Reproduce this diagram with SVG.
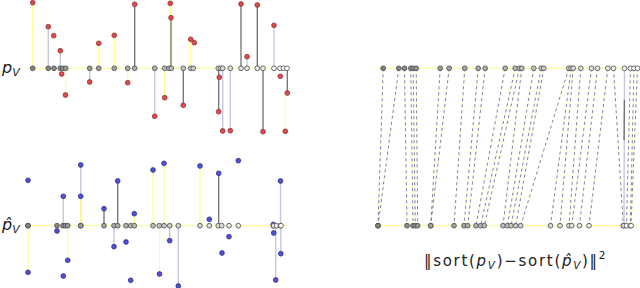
<svg xmlns="http://www.w3.org/2000/svg" width="640" height="288" viewBox="0 0 640 288">
<style>
.ax{stroke:#ffff88;stroke-width:1}
.ly{stroke:#ffff88;stroke-width:1.2}
.ll{stroke:#c6c6e2;stroke-width:1.4}
.ld{stroke:#707070;stroke-width:1.3}
.d{stroke:#4a4a4a;stroke-width:0.8}
.r{fill:#e4484c;stroke:#7a2c2c;stroke-width:0.7}
.b{fill:#5050da;stroke:#262672;stroke-width:0.7}
.my{stroke:#ffffc4;stroke-width:0.9}
.md{stroke:#7272b0;stroke-width:0.9;stroke-dasharray:3 3}
.lbl{font-family:"DejaVu Sans",sans-serif;fill:#222}
</style>
<rect width="640" height="288" fill="#fff"/>

<!-- labels -->
<text class="lbl" x="2" y="73" font-size="16" font-style="italic">p<tspan font-size="11" dy="3">V</tspan></text>
<text class="lbl" x="2" y="230" font-size="16" font-style="italic">p̂<tspan font-size="11" dy="3">V</tspan></text>
<text class="lbl" x="424" y="266" font-size="15" letter-spacing="1.7">‖sort(<tspan font-style="italic">p</tspan><tspan font-style="italic" font-size="10.5" dy="3">V</tspan><tspan dy="-3">)−sort(</tspan><tspan font-style="italic">p̂</tspan><tspan font-style="italic" font-size="10.5" dy="3">V</tspan><tspan dy="-3">)‖</tspan><tspan font-size="10.5" dy="-7">2</tspan></text>

<!-- axes -->
<g id="axes">
<line class="ax" x1="28" y1="68.3" x2="290" y2="68.3"/>
<line class="ax" x1="28" y1="225.7" x2="288" y2="225.7"/>
<line class="ax" x1="378" y1="68.3" x2="640" y2="68.3"/>
<line class="ax" x1="378" y1="225.7" x2="638" y2="225.7"/>
</g>

<!-- connectors -->
<g id="connectors">
<!-- top panel stems -->
<line class="ly" x1="32.7" y1="68.3" x2="32.7" y2="2.7"/>
<line class="ll" x1="48.3" y1="68.3" x2="48.3" y2="26.7"/>
<line class="ll" x1="60.3" y1="68.3" x2="60.3" y2="50.7"/>
<line class="ly" x1="65.5" y1="68.3" x2="65.5" y2="95"/>
<line class="ll" x1="89.7" y1="68.3" x2="89.7" y2="82"/>
<line class="ly" x1="98.7" y1="68.3" x2="98.7" y2="43.3"/>
<line class="ly" x1="114.3" y1="68.3" x2="114.3" y2="35.3"/>
<line class="ly" x1="127.7" y1="68.3" x2="127.7" y2="82.7"/>
<line class="ld" x1="134.7" y1="68.3" x2="134.7" y2="4.3"/>
<line class="ll" x1="154.7" y1="68.3" x2="154.7" y2="116.3"/>
<line class="ly" x1="164.7" y1="68.3" x2="164.7" y2="97.7"/>
<line class="ly" x1="170.3" y1="68.3" x2="170.3" y2="3.3"/>
<line class="ld" x1="171" y1="68.3" x2="171" y2="17.7"/>
<line class="ld" x1="183.3" y1="68.3" x2="183.3" y2="105.3"/>
<line class="ly" x1="190.7" y1="68.3" x2="190.7" y2="39.3"/>
<line class="ld" x1="218.7" y1="68.3" x2="218.7" y2="111.7"/>
<line class="ll" x1="222.7" y1="68.3" x2="222.7" y2="131"/>
<line class="ll" x1="230.3" y1="68.3" x2="230.3" y2="130.7"/>
<line class="ld" x1="241" y1="68.3" x2="241" y2="4"/>
<line class="ll" x1="247" y1="68.3" x2="247" y2="56.7"/>
<line class="ld" x1="257.3" y1="68.3" x2="257.3" y2="5"/>
<line class="ld" x1="263" y1="68.3" x2="263" y2="131.7"/>
<line class="ll" x1="274" y1="68.3" x2="274" y2="25.3"/>
<line class="ly" x1="285.3" y1="93" x2="285.3" y2="131.3"/>
<line class="ld" x1="287.3" y1="68.3" x2="287.3" y2="93"/>
<!-- bottom panel stems -->
<line class="ly" x1="28" y1="225.7" x2="28" y2="272.3"/>
<line class="ll" x1="63.3" y1="225.7" x2="63.3" y2="196.3"/>
<line class="ly" x1="67.7" y1="225.7" x2="67.7" y2="260.3"/>
<line class="ll" x1="80.7" y1="225.7" x2="80.7" y2="165"/>
<line class="ly" x1="80.7" y1="225.7" x2="80.7" y2="196.3"/>
<line class="ld" x1="104" y1="225.7" x2="104" y2="208.7"/>
<line class="ll" x1="114" y1="225.7" x2="114" y2="246.7"/>
<line class="ld" x1="117.7" y1="225.7" x2="117.7" y2="181"/>
<line class="ly" x1="134.3" y1="225.7" x2="134.3" y2="213.7"/>
<line class="ly" x1="153" y1="225.7" x2="153" y2="170"/>
<line class="ly" x1="159.5" y1="225.7" x2="159.5" y2="274"/>
<line class="ly" x1="164" y1="225.7" x2="164" y2="163.3"/>
<line class="ll" x1="169.7" y1="225.7" x2="169.7" y2="240.7"/>
<line class="ll" x1="178.3" y1="225.7" x2="178.3" y2="286"/>
<line class="ly" x1="200" y1="225.7" x2="200" y2="166"/>
<line class="ld" x1="218.7" y1="225.7" x2="218.7" y2="173.3"/>
<line class="ll" x1="275.7" y1="225.7" x2="275.7" y2="280"/>
<line class="ll" x1="280.5" y1="225.7" x2="280.5" y2="181"/>
<line class="ll" x1="280.8" y1="225.7" x2="280.8" y2="253.7"/>
<!-- sorted matching -->
<g id="matching">
<line class="my" x1="383.2" y1="68.3" x2="378" y2="225.7"/>
<line class="my" x1="398.8" y1="68.3" x2="378" y2="225.7"/>
<line class="my" x1="404.5" y1="68.3" x2="407" y2="225.7"/>
<line class="my" x1="410.8" y1="68.3" x2="413" y2="225.7"/>
<line class="my" x1="413.2" y1="68.3" x2="415.3" y2="225.7"/>
<line class="my" x1="416.2" y1="68.3" x2="417.7" y2="225.7"/>
<line class="my" x1="440.2" y1="68.3" x2="430.7" y2="225.7"/>
<line class="my" x1="449.2" y1="68.3" x2="430.7" y2="225.7"/>
<line class="my" x1="464.8" y1="68.3" x2="454" y2="225.7"/>
<line class="my" x1="478.2" y1="68.3" x2="464" y2="225.7"/>
<line class="my" x1="485.2" y1="68.3" x2="467.7" y2="225.7"/>
<line class="my" x1="505.2" y1="68.3" x2="476" y2="225.7"/>
<line class="my" x1="515.2" y1="68.3" x2="480.7" y2="225.7"/>
<line class="my" x1="519.5" y1="68.3" x2="484.3" y2="225.7"/>
<line class="my" x1="521.8" y1="68.3" x2="503" y2="225.7"/>
<line class="my" x1="533.8" y1="68.3" x2="507.5" y2="225.7"/>
<line class="my" x1="541.2" y1="68.3" x2="511" y2="225.7"/>
<line class="my" x1="543.8" y1="68.3" x2="515.7" y2="225.7"/>
<line class="my" x1="568.8" y1="68.3" x2="520.7" y2="225.7"/>
<line class="my" x1="571.2" y1="68.3" x2="550.5" y2="225.7"/>
<line class="my" x1="573.2" y1="68.3" x2="560" y2="225.7"/>
<line class="my" x1="580.8" y1="68.3" x2="569" y2="225.7"/>
<line class="my" x1="591.5" y1="68.3" x2="571.7" y2="225.7"/>
<line class="my" x1="597.5" y1="68.3" x2="579.5" y2="225.7"/>
<line class="my" x1="607.8" y1="68.3" x2="589" y2="225.7"/>
<line class="my" x1="613.5" y1="68.3" x2="623.3" y2="225.7"/>
<line class="my" x1="630.5" y1="68.3" x2="626.5" y2="225.7"/>
<line class="my" x1="634" y1="68.3" x2="630.3" y2="225.7"/>
<line class="my" x1="637.5" y1="68.3" x2="631" y2="225.7"/>

<line class="md" x1="383.2" y1="68.3" x2="378" y2="225.7"/>
<line class="md" x1="398.8" y1="68.3" x2="378" y2="225.7"/>
<line class="md" x1="404.5" y1="68.3" x2="407" y2="225.7"/>
<line class="md" x1="410.8" y1="68.3" x2="413" y2="225.7"/>
<line class="md" x1="413.2" y1="68.3" x2="415.3" y2="225.7"/>
<line class="md" x1="416.2" y1="68.3" x2="417.7" y2="225.7"/>
<line class="md" x1="440.2" y1="68.3" x2="430.7" y2="225.7"/>
<line class="md" x1="449.2" y1="68.3" x2="430.7" y2="225.7"/>
<line class="md" x1="464.8" y1="68.3" x2="454" y2="225.7"/>
<line class="md" x1="478.2" y1="68.3" x2="464" y2="225.7"/>
<line class="md" x1="485.2" y1="68.3" x2="467.7" y2="225.7"/>
<line class="md" x1="505.2" y1="68.3" x2="476" y2="225.7"/>
<line class="md" x1="515.2" y1="68.3" x2="480.7" y2="225.7"/>
<line class="md" x1="519.5" y1="68.3" x2="484.3" y2="225.7"/>
<line class="md" x1="521.8" y1="68.3" x2="503" y2="225.7"/>
<line class="md" x1="533.8" y1="68.3" x2="507.5" y2="225.7"/>
<line class="md" x1="541.2" y1="68.3" x2="511" y2="225.7"/>
<line class="md" x1="543.8" y1="68.3" x2="515.7" y2="225.7"/>
<line class="md" x1="568.8" y1="68.3" x2="520.7" y2="225.7"/>
<line class="md" x1="571.2" y1="68.3" x2="550.5" y2="225.7"/>
<line class="md" x1="573.2" y1="68.3" x2="560" y2="225.7"/>
<line class="md" x1="580.8" y1="68.3" x2="569" y2="225.7"/>
<line class="md" x1="591.5" y1="68.3" x2="571.7" y2="225.7"/>
<line class="md" x1="597.5" y1="68.3" x2="579.5" y2="225.7"/>
<line class="md" x1="607.8" y1="68.3" x2="589" y2="225.7"/>
<line class="md" x1="613.5" y1="68.3" x2="623.3" y2="225.7"/>
<line class="ll" x1="624.5" y1="68.3" x2="624" y2="225.7"/>
<line class="ld" x1="624.4" y1="100" x2="624.1" y2="140"/>
<line class="md" x1="630.5" y1="68.3" x2="626.5" y2="225.7"/>
<line class="md" x1="634" y1="68.3" x2="630.3" y2="225.7"/>
<line class="md" x1="637.5" y1="68.3" x2="631" y2="225.7"/>
</g>
</g>

<!-- top panel samples -->
<g id="top-samples">
<circle class="r" cx="32.7" cy="2.7" r="2.4"/>
<circle class="r" cx="48.3" cy="26.7" r="2.4"/>
<circle class="r" cx="53.7" cy="35.7" r="2.4"/>
<circle class="r" cx="60.3" cy="50.7" r="2.4"/>
<circle class="r" cx="61.7" cy="74" r="2.4"/>
<circle class="r" cx="65.5" cy="95" r="2.4"/>
<circle class="r" cx="89.7" cy="82" r="2.4"/>
<circle class="r" cx="98.7" cy="43.3" r="2.4"/>
<circle class="r" cx="114.3" cy="35.3" r="2.4"/>
<circle class="r" cx="127.7" cy="82.7" r="2.4"/>
<circle class="r" cx="134.7" cy="4.3" r="2.4"/>
<circle class="r" cx="154.7" cy="116.3" r="2.4"/>
<circle class="r" cx="164.7" cy="97.7" r="2.4"/>
<circle class="r" cx="170.3" cy="3.3" r="2.4"/>
<circle class="r" cx="171" cy="17.7" r="2.4"/>
<circle class="r" cx="183.3" cy="105.3" r="2.4"/>
<circle class="r" cx="190.7" cy="39.3" r="2.4"/>
<circle class="r" cx="194.3" cy="42.7" r="2.4"/>
<circle class="r" cx="219.3" cy="77.3" r="2.4"/>
<circle class="r" cx="218.7" cy="111.7" r="2.4"/>
<circle class="r" cx="222.7" cy="131" r="2.4"/>
<circle class="r" cx="230.3" cy="130.7" r="2.4"/>
<circle class="r" cx="241" cy="4" r="2.4"/>
<circle class="r" cx="247" cy="56.7" r="2.4"/>
<circle class="r" cx="257.3" cy="5" r="2.4"/>
<circle class="r" cx="263" cy="131.7" r="2.4"/>
<circle class="r" cx="274" cy="25.3" r="2.4"/>
<circle class="r" cx="280.3" cy="76.3" r="2.4"/>
<circle class="r" cx="287.3" cy="93" r="2.4"/>
<circle class="r" cx="285.3" cy="131.3" r="2.4"/>
</g>

<!-- bottom panel samples -->
<g id="bottom-samples">
<circle class="b" cx="28" cy="180.3" r="2.4"/>
<circle class="b" cx="28" cy="272.3" r="2.4"/>
<circle class="b" cx="57" cy="231" r="2.4"/>
<circle class="b" cx="63.3" cy="196.3" r="2.4"/>
<circle class="b" cx="63.3" cy="276" r="2.4"/>
<circle class="b" cx="67.7" cy="260.3" r="2.4"/>
<circle class="b" cx="80.7" cy="165" r="2.4"/>
<circle class="b" cx="80.7" cy="196.3" r="2.4"/>
<circle class="b" cx="104" cy="208.7" r="2.4"/>
<circle class="b" cx="114" cy="246.7" r="2.4"/>
<circle class="b" cx="117.7" cy="181" r="2.4"/>
<circle class="b" cx="126" cy="242" r="2.4"/>
<circle class="b" cx="130.7" cy="280.3" r="2.4"/>
<circle class="b" cx="134.3" cy="213.7" r="2.4"/>
<circle class="b" cx="153" cy="170" r="2.4"/>
<circle class="b" cx="159.5" cy="274" r="2.4"/>
<circle class="b" cx="164" cy="163.3" r="2.4"/>
<circle class="b" cx="169.7" cy="240.7" r="2.4"/>
<circle class="b" cx="178.3" cy="286" r="2.4"/>
<circle class="b" cx="200" cy="166" r="2.4"/>
<circle class="b" cx="209.3" cy="219.3" r="2.4"/>
<circle class="b" cx="218.7" cy="173.3" r="2.4"/>
<circle class="b" cx="229" cy="236.7" r="2.4"/>
<circle class="b" cx="222" cy="253" r="2.4"/>
<circle class="b" cx="238.3" cy="160.7" r="2.4"/>
<circle class="b" cx="273.3" cy="224.5" r="2.4"/>
<circle class="b" cx="273.7" cy="233" r="2.4"/>
<circle class="b" cx="275.7" cy="280" r="2.4"/>
<circle class="b" cx="280.5" cy="181" r="2.4"/>
<circle class="b" cx="280.8" cy="253.7" r="2.4"/>
</g>

<!-- projected points on axes -->
<g id="top-projections">
<circle class="d" cx="32.7" cy="68.3" r="2.4" fill="#808080"/>
<circle class="d" cx="48.3" cy="68.3" r="2.4" fill="#848484"/>
<circle class="d" cx="54" cy="68.3" r="2.4" fill="#898989"/>
<circle class="d" cx="60.3" cy="68.3" r="2.4" fill="#8d8d8d"/>
<circle class="d" cx="62.7" cy="68.3" r="2.4" fill="#929292"/>
<circle class="d" cx="65.7" cy="68.3" r="2.4" fill="#969696"/>
<circle class="d" cx="89.7" cy="68.3" r="2.4" fill="#9a9a9a"/>
<circle class="d" cx="98.7" cy="68.3" r="2.4" fill="#9f9f9f"/>
<circle class="d" cx="114.3" cy="68.3" r="2.4" fill="#a3a3a3"/>
<circle class="d" cx="127.7" cy="68.3" r="2.4" fill="#a7a7a7"/>
<circle class="d" cx="134.7" cy="68.3" r="2.4" fill="#acacac"/>
<circle class="d" cx="154.7" cy="68.3" r="2.4" fill="#b0b0b0"/>
<circle class="d" cx="164.7" cy="68.3" r="2.4" fill="#b5b5b5"/>
<circle class="d" cx="169" cy="68.3" r="2.4" fill="#b9b9b9"/>
<circle class="d" cx="171.3" cy="68.3" r="2.4" fill="#bdbdbd"/>
<circle class="d" cx="183.3" cy="68.3" r="2.4" fill="#c2c2c2"/>
<circle class="d" cx="190.7" cy="68.3" r="2.4" fill="#c6c6c6"/>
<circle class="d" cx="193.3" cy="68.3" r="2.4" fill="#cacaca"/>
<circle class="d" cx="218.3" cy="68.3" r="2.4" fill="#cfcfcf"/>
<circle class="d" cx="220.7" cy="68.3" r="2.4" fill="#d3d3d3"/>
<circle class="d" cx="222.7" cy="68.3" r="2.4" fill="#d8d8d8"/>
<circle class="d" cx="230.3" cy="68.3" r="2.4" fill="#dcdcdc"/>
<circle class="d" cx="241" cy="68.3" r="2.4" fill="#e0e0e0"/>
<circle class="d" cx="247" cy="68.3" r="2.4" fill="#e5e5e5"/>
<circle class="d" cx="257.3" cy="68.3" r="2.4" fill="#e9e9e9"/>
<circle class="d" cx="263" cy="68.3" r="2.4" fill="#ededed"/>
<circle class="d" cx="274" cy="68.3" r="2.4" fill="#f2f2f2"/>
<circle class="d" cx="280" cy="68.3" r="2.4" fill="#f6f6f6"/>
<circle class="d" cx="283.5" cy="68.3" r="2.4" fill="#fbfbfb"/>
<circle class="d" cx="287" cy="68.3" r="2.4" fill="#ffffff"/>
</g>

<g id="bottom-projections">
<circle class="d" cx="28" cy="225.7" r="2.4" fill="#808080"/>
<circle class="d" cx="28" cy="225.7" r="2.4" fill="#848484"/>
<circle class="d" cx="57" cy="225.7" r="2.4" fill="#898989"/>
<circle class="d" cx="63" cy="225.7" r="2.4" fill="#8d8d8d"/>
<circle class="d" cx="65.3" cy="225.7" r="2.4" fill="#929292"/>
<circle class="d" cx="67.7" cy="225.7" r="2.4" fill="#969696"/>
<circle class="d" cx="80.7" cy="225.7" r="2.4" fill="#9a9a9a"/>
<circle class="d" cx="80.7" cy="225.7" r="2.4" fill="#9f9f9f"/>
<circle class="d" cx="104" cy="225.7" r="2.4" fill="#a3a3a3"/>
<circle class="d" cx="114" cy="225.7" r="2.4" fill="#a7a7a7"/>
<circle class="d" cx="117.7" cy="225.7" r="2.4" fill="#acacac"/>
<circle class="d" cx="126" cy="225.7" r="2.4" fill="#b0b0b0"/>
<circle class="d" cx="130.7" cy="225.7" r="2.4" fill="#b5b5b5"/>
<circle class="d" cx="134.3" cy="225.7" r="2.4" fill="#b9b9b9"/>
<circle class="d" cx="153" cy="225.7" r="2.4" fill="#bdbdbd"/>
<circle class="d" cx="159.3" cy="225.7" r="2.4" fill="#c2c2c2"/>
<circle class="d" cx="164" cy="225.7" r="2.4" fill="#c6c6c6"/>
<circle class="d" cx="169.7" cy="225.7" r="2.4" fill="#cacaca"/>
<circle class="d" cx="178.3" cy="225.7" r="2.4" fill="#cfcfcf"/>
<circle class="d" cx="200" cy="225.7" r="2.4" fill="#d3d3d3"/>
<circle class="d" cx="209.3" cy="225.7" r="2.4" fill="#d8d8d8"/>
<circle class="d" cx="218.3" cy="225.7" r="2.4" fill="#dcdcdc"/>
<circle class="d" cx="221.7" cy="225.7" r="2.4" fill="#e0e0e0"/>
<circle class="d" cx="229" cy="225.7" r="2.4" fill="#e5e5e5"/>
<circle class="d" cx="238.3" cy="225.7" r="2.4" fill="#e9e9e9"/>
<circle class="d" cx="273.3" cy="225.7" r="2.4" fill="#ededed"/>
<circle class="d" cx="273.7" cy="225.7" r="2.4" fill="#f2f2f2"/>
<circle class="d" cx="276.5" cy="225.7" r="2.4" fill="#f6f6f6"/>
<circle class="d" cx="280.3" cy="225.7" r="2.4" fill="#fbfbfb"/>
<circle class="d" cx="281" cy="225.7" r="2.4" fill="#ffffff"/>
</g>

<g id="sorted-top">
<circle class="d" cx="383.2" cy="68.3" r="2.4" fill="#808080"/>
<circle class="d" cx="398.8" cy="68.3" r="2.4" fill="#848484"/>
<circle class="d" cx="404.5" cy="68.3" r="2.4" fill="#898989"/>
<circle class="d" cx="410.8" cy="68.3" r="2.4" fill="#8d8d8d"/>
<circle class="d" cx="413.2" cy="68.3" r="2.4" fill="#929292"/>
<circle class="d" cx="416.2" cy="68.3" r="2.4" fill="#969696"/>
<circle class="d" cx="440.2" cy="68.3" r="2.4" fill="#9a9a9a"/>
<circle class="d" cx="449.2" cy="68.3" r="2.4" fill="#9f9f9f"/>
<circle class="d" cx="464.8" cy="68.3" r="2.4" fill="#a3a3a3"/>
<circle class="d" cx="478.2" cy="68.3" r="2.4" fill="#a7a7a7"/>
<circle class="d" cx="485.2" cy="68.3" r="2.4" fill="#acacac"/>
<circle class="d" cx="505.2" cy="68.3" r="2.4" fill="#b0b0b0"/>
<circle class="d" cx="515.2" cy="68.3" r="2.4" fill="#b5b5b5"/>
<circle class="d" cx="519.5" cy="68.3" r="2.4" fill="#b9b9b9"/>
<circle class="d" cx="521.8" cy="68.3" r="2.4" fill="#bdbdbd"/>
<circle class="d" cx="533.8" cy="68.3" r="2.4" fill="#c2c2c2"/>
<circle class="d" cx="541.2" cy="68.3" r="2.4" fill="#c6c6c6"/>
<circle class="d" cx="543.8" cy="68.3" r="2.4" fill="#cacaca"/>
<circle class="d" cx="568.8" cy="68.3" r="2.4" fill="#cfcfcf"/>
<circle class="d" cx="571.2" cy="68.3" r="2.4" fill="#d3d3d3"/>
<circle class="d" cx="573.2" cy="68.3" r="2.4" fill="#d8d8d8"/>
<circle class="d" cx="580.8" cy="68.3" r="2.4" fill="#dcdcdc"/>
<circle class="d" cx="591.5" cy="68.3" r="2.4" fill="#e0e0e0"/>
<circle class="d" cx="597.5" cy="68.3" r="2.4" fill="#e5e5e5"/>
<circle class="d" cx="607.8" cy="68.3" r="2.4" fill="#e9e9e9"/>
<circle class="d" cx="613.5" cy="68.3" r="2.4" fill="#ededed"/>
<circle class="d" cx="624.5" cy="68.3" r="2.4" fill="#f2f2f2"/>
<circle class="d" cx="630.5" cy="68.3" r="2.4" fill="#f6f6f6"/>
<circle class="d" cx="634" cy="68.3" r="2.4" fill="#fbfbfb"/>
<circle class="d" cx="637.5" cy="68.3" r="2.4" fill="#ffffff"/>
</g>

<g id="sorted-bottom">
<circle class="d" cx="378" cy="225.7" r="2.4" fill="#808080"/>
<circle class="d" cx="378" cy="225.7" r="2.4" fill="#848484"/>
<circle class="d" cx="407" cy="225.7" r="2.4" fill="#898989"/>
<circle class="d" cx="413" cy="225.7" r="2.4" fill="#8d8d8d"/>
<circle class="d" cx="415.3" cy="225.7" r="2.4" fill="#929292"/>
<circle class="d" cx="417.7" cy="225.7" r="2.4" fill="#969696"/>
<circle class="d" cx="430.7" cy="225.7" r="2.4" fill="#9a9a9a"/>
<circle class="d" cx="430.7" cy="225.7" r="2.4" fill="#9f9f9f"/>
<circle class="d" cx="454" cy="225.7" r="2.4" fill="#a3a3a3"/>
<circle class="d" cx="464" cy="225.7" r="2.4" fill="#a7a7a7"/>
<circle class="d" cx="467.7" cy="225.7" r="2.4" fill="#acacac"/>
<circle class="d" cx="476" cy="225.7" r="2.4" fill="#b0b0b0"/>
<circle class="d" cx="480.7" cy="225.7" r="2.4" fill="#b5b5b5"/>
<circle class="d" cx="484.3" cy="225.7" r="2.4" fill="#b9b9b9"/>
<circle class="d" cx="503" cy="225.7" r="2.4" fill="#bdbdbd"/>
<circle class="d" cx="507.5" cy="225.7" r="2.4" fill="#c2c2c2"/>
<circle class="d" cx="511" cy="225.7" r="2.4" fill="#c6c6c6"/>
<circle class="d" cx="515.7" cy="225.7" r="2.4" fill="#cacaca"/>
<circle class="d" cx="520.7" cy="225.7" r="2.4" fill="#cfcfcf"/>
<circle class="d" cx="550.5" cy="225.7" r="2.4" fill="#d3d3d3"/>
<circle class="d" cx="560" cy="225.7" r="2.4" fill="#d8d8d8"/>
<circle class="d" cx="569" cy="225.7" r="2.4" fill="#dcdcdc"/>
<circle class="d" cx="571.7" cy="225.7" r="2.4" fill="#e0e0e0"/>
<circle class="d" cx="579.5" cy="225.7" r="2.4" fill="#e5e5e5"/>
<circle class="d" cx="589" cy="225.7" r="2.4" fill="#e9e9e9"/>
<circle class="d" cx="623.3" cy="225.7" r="2.4" fill="#ededed"/>
<circle class="d" cx="624" cy="225.7" r="2.4" fill="#f2f2f2"/>
<circle class="d" cx="626.5" cy="225.7" r="2.4" fill="#f6f6f6"/>
<circle class="d" cx="630.3" cy="225.7" r="2.4" fill="#fbfbfb"/>
<circle class="d" cx="631" cy="225.7" r="2.4" fill="#ffffff"/>
</g>
</svg>
